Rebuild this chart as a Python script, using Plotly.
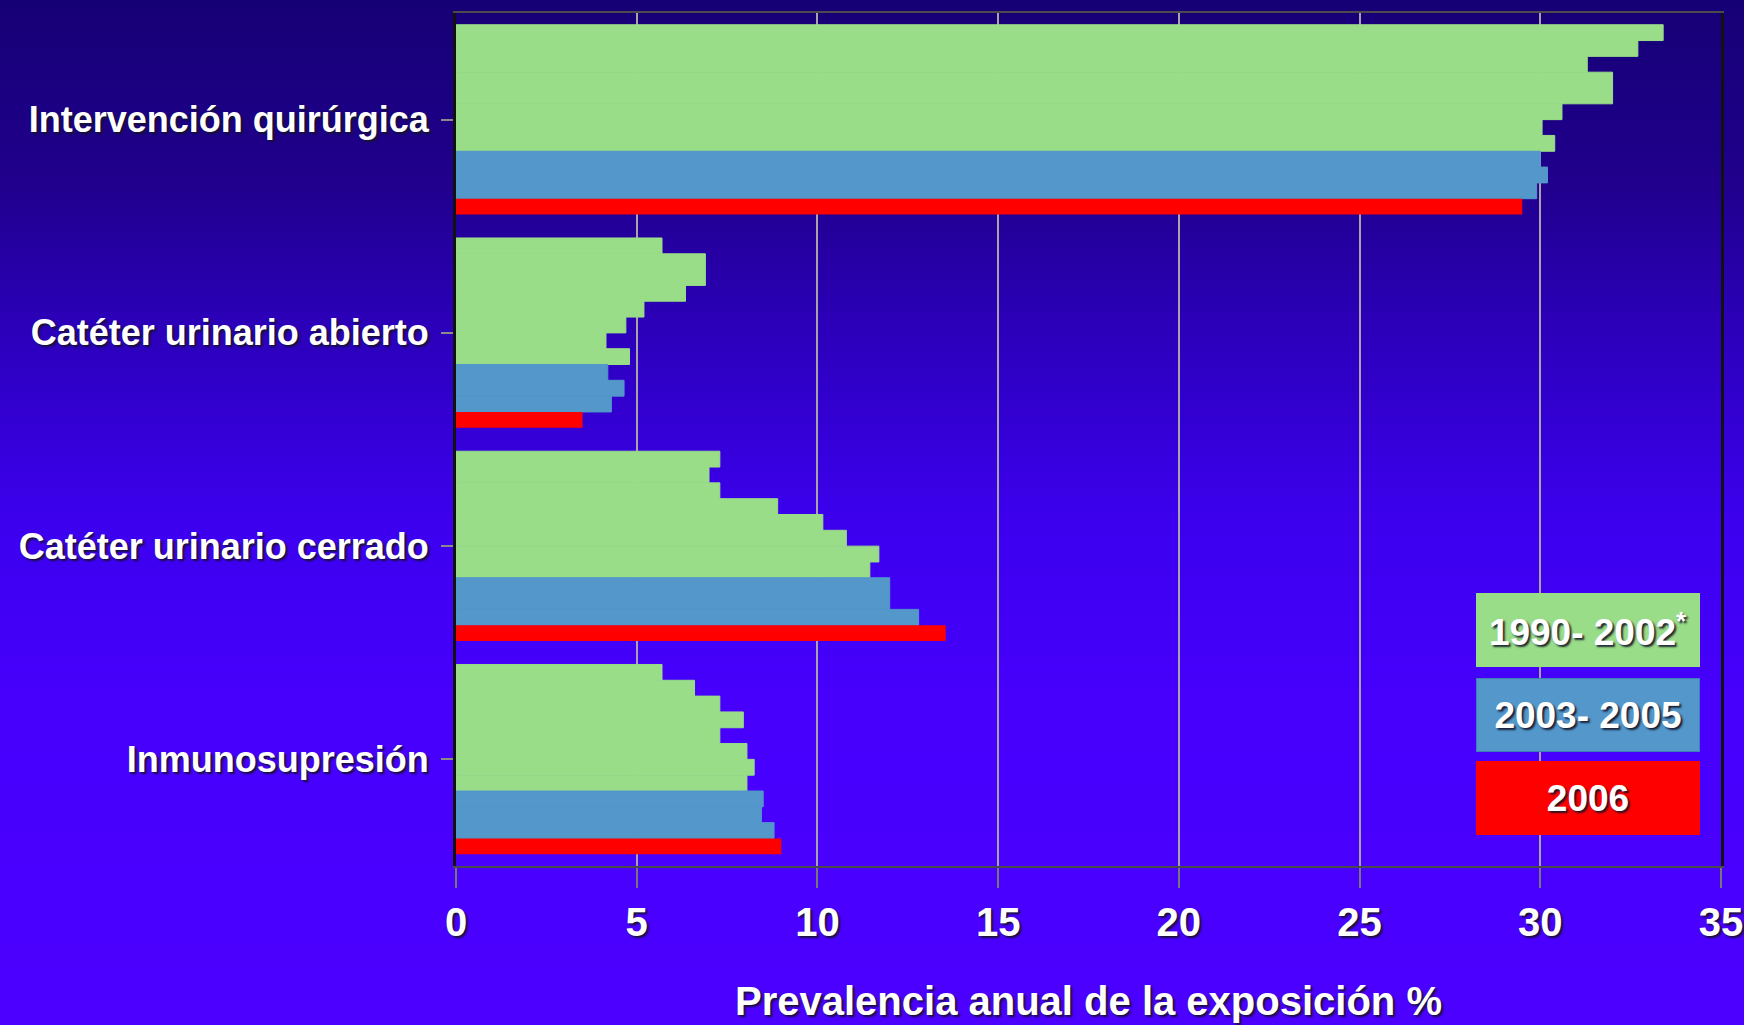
import plotly.graph_objects as go

# ---------------- data ----------------
categories = [
    "Intervención quirúrgica",
    "Catéter urinario abierto",
    "Catéter urinario cerrado",
    "Inmunosupresión",
]

# 1990-2002 (green rows, top to bottom within each category)
green_interv = [33.4, 32.7, 31.3, 32.0, 32.0, 30.6, 30.05, 30.4]
green_abierto = [5.7, 6.9, 6.9, 6.35, 5.2, 4.7, 4.15, 4.8]
green_cerrado = [7.3, 7.0, 7.3, 8.9, 10.15, 10.8, 11.7, 11.45]
green_inmuno = [5.7, 6.6, 7.3, 7.95, 7.3, 8.05, 8.25, 8.05]

# 2003-2005 (blue rows)
blue_interv = [30.0, 30.2, 29.9]
blue_abierto = [4.2, 4.65, 4.3]
blue_cerrado = [12.0, 12.0, 12.8]
blue_inmuno = [8.5, 8.45, 8.8]

# 2006 (red row)
red_2006 = [29.5, 3.5, 13.55, 9.0]

legend_labels = ["1990- 2002<sup>*</sup>", "2003- 2005", "2006"]
x_ticks = [0, 5, 10, 15, 20, 25, 30, 35]
x_title = "Prevalencia anual de la exposición %"

# ---------------- style ----------------
GREEN = "#99DD88"
BLUE = "#5397CB"
BLUE_EDGE = "#3F7DB8"
RED = "#FF0000"
FONT = "Liberation Sans, Arial, sans-serif"
SHADOW = "2px 2px 2px rgba(20,20,40,0.9)"

fig = go.Figure()

green_rows = list(zip(green_interv, green_abierto, green_cerrado, green_inmuno))
blue_rows = list(zip(blue_interv, blue_abierto, blue_cerrado, blue_inmuno))

for i, vals in enumerate(green_rows):
    fig.add_trace(go.Bar(
        y=categories, x=list(vals), orientation="h",
        name=f"1990-2002 ({i + 1})", marker=dict(color=GREEN, line=dict(width=1, color=GREEN)),
        showlegend=False,
    ))
for i, vals in enumerate(blue_rows):
    fig.add_trace(go.Bar(
        y=categories, x=list(vals), orientation="h",
        name=f"{2003 + i}", marker=dict(color=BLUE, line=dict(width=1, color=BLUE)),
        showlegend=False,
    ))
fig.add_trace(go.Bar(
    y=categories, x=red_2006, orientation="h",
    name="2006", marker=dict(color=RED, line=dict(width=0)),
    showlegend=False,
))

# ---------------- background gradient (figure paper) ----------------
W, H = 1744, 1025
ML, MR, MT, MB = 456, 23, 13, 159
PW, PH = W - ML - MR, H - MT - MB

stops = [(0, (22, 0, 118)), (180, (32, 0, 140)), (360, (46, 0, 195)),
         (520, (60, 0, 238)), (700, (70, 0, 252)), (1025, (76, 0, 255))]


def col_at(p):
    for (p0, c0), (p1, c1) in zip(stops[:-1], stops[1:]):
        if p0 <= p <= p1:
            t = (p - p0) / (p1 - p0)
            return "rgb(%d,%d,%d)" % tuple(round(a + (b - a) * t) for a, b in zip(c0, c1))
    return "rgb(%d,%d,%d)" % stops[-1][1]


shapes = []
band = 8
for top in range(0, H, band):
    bot = min(H, top + band)
    y1 = (H - MB - top) / PH
    y0 = (H - MB - bot - 1) / PH
    shapes.append(dict(type="rect", xref="paper", yref="paper",
                       x0=-0.5, x1=1.5, y0=y0, y1=y1,
                       fillcolor=col_at((top + bot) / 2), line=dict(width=0),
                       layer="below"))

# ---------------- legend boxes ----------------
box_cx = (1587.5 - ML) / PW
box_specs = [(630, GREEN, GREEN), (715, BLUE, BLUE_EDGE), (797.5, RED, RED)]
annotations = []
for label, (cy, fill, edge) in zip(legend_labels, box_specs):
    annotations.append(dict(
        text=f"<b>{label}</b>", xref="paper", yref="paper",
        x=box_cx, y=(H - MB - cy) / PH, xanchor="center", yanchor="middle",
        width=222, height=72, bgcolor=fill, bordercolor=edge, borderwidth=1,
        borderpad=0, showarrow=False, align="center", valign="middle",
        font=dict(family=FONT, size=37, color="white", shadow=SHADOW),
    ))

fig.update_layout(
    width=W, height=H,
    margin=dict(l=ML, r=MR, t=MT, b=MB, autoexpand=False),
    paper_bgcolor="rgb(50,0,190)",
    plot_bgcolor="white",
    barmode="group", bargap=0.11, bargroupgap=0,
    shapes=shapes, annotations=annotations,
    showlegend=False,
    font=dict(family=FONT, color="white"),
)

fig.update_xaxes(
    range=[0, 35], tickvals=x_ticks, automargin=False,
    showgrid=True, gridcolor="#A9A3A9", gridwidth=2,
    showline=True, linecolor="#4a4a4a", linewidth=2, mirror=True,
    ticks="outside", ticklen=20, tickwidth=2, tickcolor="#777777",
    ticklabelstandoff=0,
    tickfont=dict(family=FONT, size=40, color="white", weight="bold", shadow=SHADOW),
    title=dict(text=x_title, standoff=44,
               font=dict(family=FONT, size=40, color="white", weight="bold", shadow=SHADOW)),
    zeroline=False, fixedrange=True,
)
fig.update_yaxes(
    type="category", categoryorder="array", categoryarray=categories,
    autorange="reversed", automargin=False,
    showgrid=False, zeroline=False,
    showline=True, linecolor="#111111", linewidth=3, mirror=True,
    ticks="outside", ticklen=12, tickwidth=2, tickcolor="#8a8a8a",
    ticklabelstandoff=5,
    tickfont=dict(family=FONT, size=36, color="white", weight="bold", shadow=SHADOW),
    fixedrange=True,
)

fig.write_html("out.html")
